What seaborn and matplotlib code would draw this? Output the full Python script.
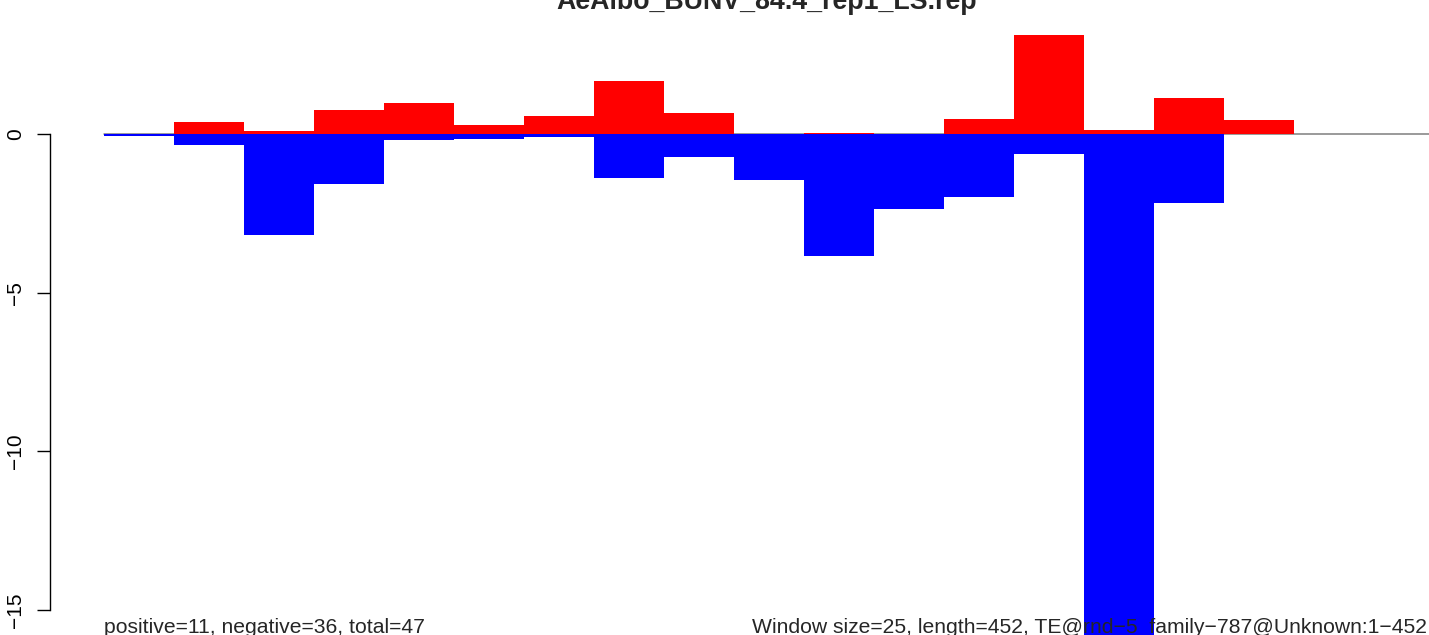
import numpy as np
import pandas as pd
import matplotlib
matplotlib.use("Agg")
import matplotlib.pyplot as plt
import seaborn as sns

# ---- data ----
window_size = 25
seq_length = 452
window_start = [0, 25, 50, 75, 100, 125, 150, 175, 200, 225, 250, 275, 300, 325, 350, 375, 400]
positive_scores = [0.0, 0.39, 0.10, 0.77, 0.99, 0.29, 0.58, 1.68, 0.67, 0.0, 0.04, 0.0, 0.48, 3.13, 0.14, 1.15, 0.45]
negative_scores = [-0.07, -0.34, -3.18, -1.59, -0.18, -0.15, -0.08, -1.38, -0.72, -1.44, -3.84, -2.36, -1.98, -0.62, -15.9, -2.17, 0.0]
y_ticks = [0, -5, -10, -15]
title = "AeAlbo_BUNV_84.4_rep1_LS.rep"
left_note = "positive=11, negative=36, total=47"
right_note = "Window size=25, length=452, TE@rnd\u22125_family\u2212787@Unknown:1\u2212452"

sns.set_style("white")
plt.rcParams["font.family"] = ["Liberation Sans", "DejaVu Sans"]

W, H = 1429, 635
fig = plt.figure(figsize=(W / 100, H / 100), dpi=100)

# axes placed in pixel terms (R-like plot region, partly cropped by the figure)
ax_left, ax_right, ax_top, ax_bottom = 50, 1484, 20, 660
ax = fig.add_axes([ax_left / W, (H - ax_bottom) / H,
                   (ax_right - ax_left) / W, (ax_bottom - ax_top) / H])

zero_px, unit_px = 134.0, 31.73
x0_px, xunit_px = 104.0, 2.8
ax.set_ylim(-(ax_bottom - zero_px) / unit_px, (zero_px - ax_top) / unit_px)
x_lo = -(x0_px - ax_left) / xunit_px
x_hi = (ax_right - x0_px) / xunit_px

df = pd.DataFrame({
    "center": np.array(window_start) + window_size / 2,
    "pos": positive_scores,
    "neg": negative_scores,
})

# zero line underneath the bars
ax.plot([0, x_hi], [0, 0], color="#7f7f7f", lw=1.1, zorder=0.5)

sns.barplot(data=df, x="center", y="pos", native_scale=True, width=1,
            color="#ff0000", saturation=1, errorbar=None, linewidth=0,
            edgecolor="none", ax=ax, zorder=2)
sns.barplot(data=df, x="center", y="neg", native_scale=True, width=1,
            color="#0000ff", saturation=1, errorbar=None, linewidth=0,
            edgecolor="none", ax=ax, zorder=3)

ax.set_xlim(x_lo, x_hi)
ax.set_xlabel("")
ax.set_ylabel("")
ax.set_xticks([])
ax.set_yticks(y_ticks)
ax.tick_params(axis="y", length=9.4, width=1.0, pad=8.5, labelsize=15, color="black",
               labelcolor="black", left=True)
for lbl in ax.get_yticklabels():
    lbl.set_rotation(90)
    lbl.set_va("center")
for s in ["top", "right", "bottom"]:
    ax.spines[s].set_visible(False)
ax.spines["left"].set_bounds(min(y_ticks), max(y_ticks))
ax.spines["left"].set_color("black")
ax.spines["left"].set_linewidth(1.0)
ax.patch.set_alpha(0)

fig.text(767 / W, 1 - 9 / H, title, ha="center", va="baseline",
         fontsize=19.3, fontweight="bold", zorder=5)
fig.text(104 / W, (H - 632.7) / H, left_note, ha="left", va="baseline",
         fontsize=15.2, zorder=5)
fig.text(752 / W, (H - 632.7) / H, right_note, ha="left", va="baseline",
         fontsize=15.2, zorder=5)

fig.savefig("out.png", dpi=100)
